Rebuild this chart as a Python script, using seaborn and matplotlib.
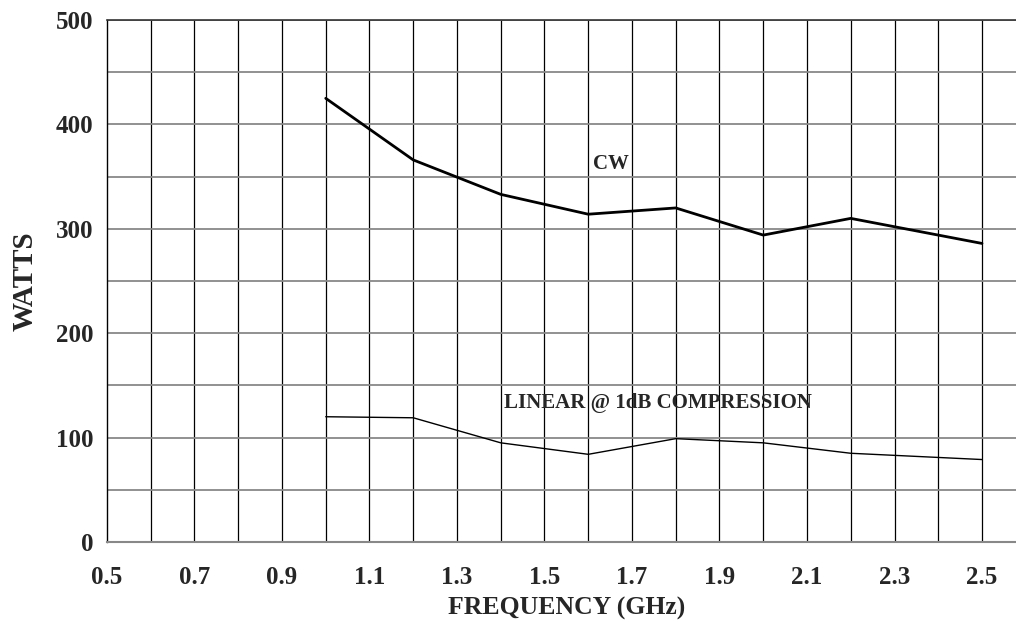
import numpy as np
import pandas as pd
import matplotlib
matplotlib.use('Agg')
import matplotlib.pyplot as plt
import seaborn as sns

# Values
freq = [1.0, 1.2, 1.4, 1.6, 1.8, 2.0, 2.2, 2.5]
cw_watts = [425, 366, 333, 314, 320, 294, 310, 286]
linear_watts = [120, 119, 95, 84, 99, 95, 85, 79]
x_ticks = [0.5, 0.7, 0.9, 1.1, 1.3, 1.5, 1.7, 1.9, 2.1, 2.3, 2.5]
y_ticks = [0, 100, 200, 300, 400, 500]

df = pd.DataFrame({'freq': freq * 2,
                   'watts': cw_watts + linear_watts,
                   'curve': ['CW'] * len(freq) + ['LINEAR'] * len(freq)})

sns.set_style('white')
plt.rcParams['font.family'] = ['Liberation Serif', 'DejaVu Serif']
plt.rcParams['font.weight'] = 'bold'

fig = plt.figure(figsize=(10.16, 6.22), dpi=100)
# the plot runs on past the right edge of the picture (to 2.6 GHz)
ax = fig.add_axes([0.1053, 0.1286, 0.9043, 0.8392])

# grid: vertical every 0.1, horizontal every 50
for xv in np.arange(0.6, 2.51, 0.1):
    ax.axvline(xv, color='black', lw=0.9, zorder=1)
for yv in np.arange(50, 501, 50):
    ax.axhline(yv, color='#888888', lw=1.3, zorder=1)

sns.lineplot(data=df[df.curve == 'CW'], x='freq', y='watts', color='black',
             lw=2.0, ax=ax, zorder=3)
sns.lineplot(data=df[df.curve == 'LINEAR'], x='freq', y='watts', color='black',
             lw=1.0, ax=ax, zorder=3)

ax.text(1.61, 362, 'CW', fontsize=15, fontweight='bold', va='center', ha='left')
ax.text(1.408, 133, 'LINEAR @ 1dB COMPRESSION', fontsize=15, fontweight='bold',
        va='center', ha='left')

ax.set_xlim(0.5, 2.6)
ax.set_ylim(0, 500)
ax.set_xticks(x_ticks)
ax.set_xticklabels([f'{v:.1f}' for v in x_ticks])
ax.set_yticks(y_ticks)
ax.tick_params(length=0, labelsize=18)
ax.tick_params(axis='x', pad=17)
ax.tick_params(axis='y', pad=10)
for lab in ax.get_xticklabels() + ax.get_yticklabels():
    lab.set_fontweight('bold')

ax.set_xlabel('FREQUENCY (GHz)', fontsize=18.5, fontweight='bold', labelpad=6)
ax.set_ylabel('WATTS', fontsize=21, fontweight='bold', labelpad=12)

ax.spines['right'].set_visible(False)
ax.spines['left'].set_color('black')
ax.spines['left'].set_linewidth(1.0)
ax.spines['bottom'].set_color('#888888')
ax.spines['bottom'].set_linewidth(1.5)
ax.spines['top'].set_color('#333333')
ax.spines['top'].set_linewidth(1.2)

fig.savefig('out.png', dpi=100)
